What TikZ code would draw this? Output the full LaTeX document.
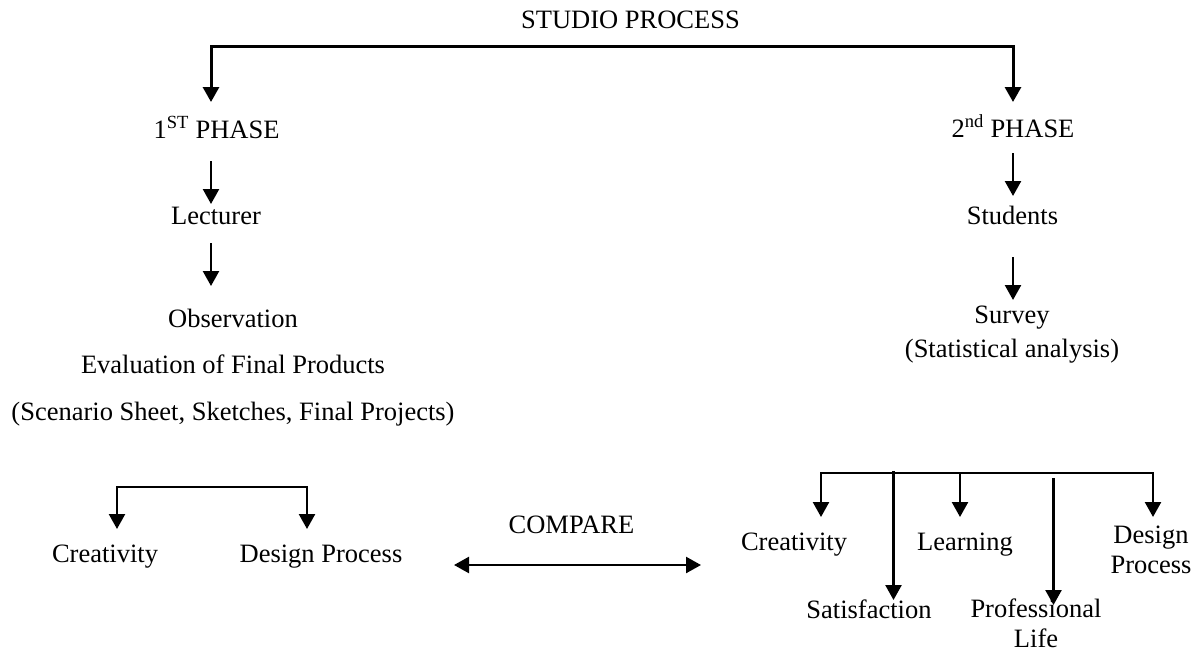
\documentclass[tikz,border=0pt]{standalone}
\usepackage{fontspec}
\setmainfont{Liberation Serif}
\usetikzlibrary{arrows.meta}
\begin{document}
\begin{tikzpicture}[x=1pt,y=-1pt,
  txt/.style={anchor=base,inner sep=0pt,font=\fontsize{26.5}{30}\selectfont},
  conn/.style={line width=2.4pt},
  arr/.style={conn,-{Triangle[width=16pt,length=15pt]}},
  darr/.style={conn,{Triangle[width=16pt,length=15pt]}-{Triangle[width=16pt,length=15pt]}},
]
\useasboundingbox (0,0) rectangle (1194,651);
% texts
\node[txt] (title) at (630.5,28) {STUDIO PROCESS};
\node[txt] (ph1) at (216.5,138) {1\textsuperscript{ST} PHASE};
\node[txt] (ph2) at (1013,137) {2\textsuperscript{nd} PHASE};
\node[txt] (lect) at (216,224) {Lecturer};
\node[txt] (stud) at (1012.5,224) {Students};
\node[txt] (obs) at (233,327) {Observation};
\node[txt] (eval) at (233,373) {Evaluation of Final Products};
\node[txt] (scen) at (233,420) {(Scenario Sheet, Sketches, Final Projects)};
\node[txt] (surv) at (1012,323) {Survey};
\node[txt] (stat) at (1012,357) {(Statistical analysis)};
\node[txt] (lcre) at (105,562) {Creativity};
\node[txt] (ldp) at (321,562) {Design Process};
\node[txt] (cmp) at (571.5,533) {COMPARE};
\node[txt] (rcre) at (794,550) {Creativity};
\node[txt] (rlea) at (965,550) {Learning};
\node[txt] (rdp) at (1151,543) {\begin{tabular}[t]{@{}c@{}}Design\\Process\end{tabular}};
\node[txt] (rsat) at (869,618) {Satisfaction};
\node[txt] (rpro) at (1036,617) {\begin{tabular}[t]{@{}c@{}}Professional\\Life\end{tabular}};
% junction coordinates
\coordinate (tl) at (211,46.7);
\coordinate (tr) at (1013,46.7);
\coordinate (t1) at (211,102);
\coordinate (t2) at (1013,102);
\coordinate (a1s) at (211,161);
\coordinate (a1e) at (211,204);
\coordinate (a2s) at (211,243);
\coordinate (a2e) at (211,286);
\coordinate (b1s) at (1013,153);
\coordinate (b1e) at (1013,196);
\coordinate (b2s) at (1013,257);
\coordinate (b2e) at (1013,300);
\coordinate (ll1) at (117,487);
\coordinate (ll2) at (307,487);
\coordinate (lt1) at (117,529);
\coordinate (lt2) at (307,529);
\coordinate (cl) at (454,565);
\coordinate (cr) at (701,565);
\coordinate (rj1) at (821,473);
\coordinate (rj5) at (1153,473);
\coordinate (rj3) at (960,473);
\coordinate (rt1) at (821,517);
\coordinate (rt3) at (960,517);
\coordinate (rt5) at (1153,517);
\coordinate (rs1) at (893.5,471);
\coordinate (rs2) at (893.5,600);
\coordinate (rp1) at (1053.5,478);
\coordinate (rp2) at (1053.5,605);
% connectors
\draw[darr,line width=3pt] (t1) -- (tl) -- (tr) -- (t2);
\draw[arr] (a1s) -- (a1e);
\draw[arr] (a2s) -- (a2e);
\draw[arr] (b1s) -- (b1e);
\draw[arr] (b2s) -- (b2e);
\draw[darr] (lt1) -- (ll1) -- (ll2) -- (lt2);
\draw[darr] (cl) -- (cr);
\draw[darr] (rt1) -- (rj1) -- (rj5) -- (rt5);
\draw[arr] (rj3) -- (rt3);
\draw[arr] (rs1) -- (rs2);
\draw[arr] (rp1) -- (rp2);
\end{tikzpicture}
\end{document}
